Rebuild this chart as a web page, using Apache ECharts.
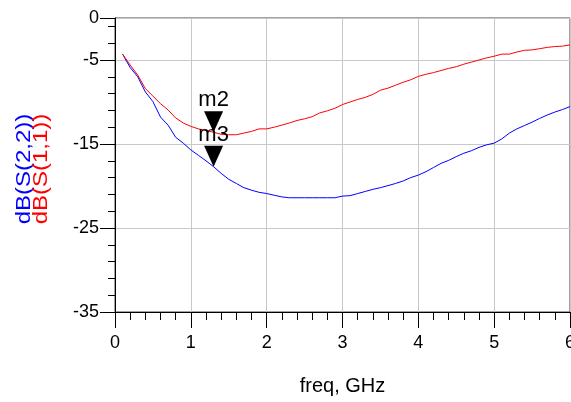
<!DOCTYPE html>
<html lang="en">
<head>
  <meta charset="UTF-8">
  <title>S-parameters</title>
  <script src="https://cdn.jsdelivr.net/npm/echarts@6/dist/echarts.min.js"></script>
  <style>
    html,body{margin:0;padding:0;background:#fff;}
    #chart{width:571px;height:402px;}
  </style>
</head>
<body>
<div id="chart"></div>
<script>
  // freq in GHz
  var freq = [0.1,0.2,0.3,0.4,0.5,0.6,0.7,0.8,0.9,1.0,
              1.1,1.2,1.3,1.4,1.5,1.6,1.7,1.8,1.9,2.0,
              2.1,2.2,2.3,2.4,2.5,2.6,2.7,2.8,2.9,3.0,
              3.1,3.2,3.3,3.4,3.5,3.6,3.7,3.8,3.9,4.0,
              4.1,4.2,4.3,4.4,4.5,4.6,4.7,4.8,4.9,5.0,
              5.1,5.2,5.3,5.4,5.5,5.6,5.7,5.8,5.9,6.0];
  var s11 = [-4.3,-5.6,-6.8,-8.4,-9.3,-10.2,-10.95,-11.9,-12.5,-12.9,
             -13.2,-13.4,-13.6,-13.85,-13.9,-13.9,-13.7,-13.5,-13.2,-13.2,
             -13.0,-12.75,-12.5,-12.2,-12.0,-11.75,-11.3,-11.05,-10.75,-10.3,
             -10.0,-9.7,-9.45,-9.1,-8.6,-8.35,-8.0,-7.65,-7.35,-6.95,
             -6.7,-6.5,-6.25,-6.0,-5.8,-5.5,-5.25,-5.0,-4.75,-4.55,
             -4.3,-4.3,-4.05,-3.85,-3.8,-3.65,-3.5,-3.4,-3.35,-3.2];
  var s22 = [-4.3,-5.9,-7.0,-8.8,-9.95,-11.8,-12.75,-14.2,-14.9,-15.7,
             -16.35,-17.0,-17.7,-18.5,-19.2,-19.7,-20.2,-20.5,-20.75,-20.9,
             -21.1,-21.3,-21.4,-21.4,-21.4,-21.4,-21.4,-21.4,-21.4,-21.2,
             -21.15,-20.9,-20.65,-20.4,-20.2,-19.95,-19.7,-19.4,-19.0,-18.7,
             -18.3,-17.8,-17.3,-16.95,-16.5,-16.1,-15.8,-15.4,-15.1,-14.9,
             -14.4,-13.7,-13.2,-12.8,-12.4,-11.95,-11.55,-11.2,-10.9,-10.55];
  var markers = [
    {name:'m2', freq:1.3, value:-13.6},
    {name:'m3', freq:1.3, value:-17.7}
  ];

  function pairs(ys){
    return freq.map(function(f,i){return [f,ys[i]];});
  }
  function marker(m){
    return {
      symbol:'path://M0,0L20,0L10,22Z',
      symbolSize:[19,21],
      symbolOffset:[0,'-50%'],
      itemStyle:{color:'#000'},
      label:{show:true,position:'top',distance:0,color:'#000',
             fontSize:22,fontFamily:'Liberation Sans, Arial',formatter:m.name},
      data:[{coord:[m.freq,m.value]}]
    };
  }

  var font = 'Liberation Sans, Arial, sans-serif';
  var chart = echarts.init(document.getElementById('chart'));
  chart.setOption({
    animation:false,
    backgroundColor:'#fff',
    grid:{left:115,top:18,width:455,height:294,show:true,borderColor:'#444',borderWidth:1,
          outerBoundsMode:'none',containLabel:false},
    xAxis:{
      type:'value',min:0,max:6,interval:1,position:'bottom',
      name:'freq, GHz',nameLocation:'middle',nameGap:64,
      nameTextStyle:{color:'#000',fontSize:20,fontFamily:font},
      axisLine:{show:true,onZero:false,lineStyle:{color:'#000',width:1}},
      axisTick:{show:true,inside:false,length:16,lineStyle:{color:'#000',width:1}},
      minorTick:{show:true,splitNumber:5,length:8,lineStyle:{color:'#000',width:1}},
      axisLabel:{margin:22,color:'#000',fontSize:18,fontFamily:font},
      splitLine:{show:true,lineStyle:{color:'#c8c8c8',width:1}}
    },
    yAxis:{
      type:'value',min:-35,max:0,interval:10,position:'left',
      axisLine:{show:true,onZero:false,lineStyle:{color:'#000',width:1}},
      axisTick:{show:true,inside:false,length:15,lineStyle:{color:'#000',width:1}},
      minorTick:{show:true,splitNumber:5,length:7,lineStyle:{color:'#000',width:1}},
      axisLabel:{margin:16,color:'#000',fontSize:18,fontFamily:font,showMinLabel:true,showMaxLabel:true},
      splitLine:{show:true,lineStyle:{color:'#c8c8c8',width:1}}
    },
    graphic:[
      {type:'text',x:24.5,y:169,rotation:Math.PI/2,scaleX:1.2,
       style:{text:'dB(S(2,2))',fill:'#0000ff',font:'20px '+font,align:'center',verticalAlign:'middle'}},
      {type:'text',x:41.5,y:169,rotation:Math.PI/2,scaleX:1.2,
       style:{text:'dB(S(1,1))',fill:'#ff0000',font:'20px '+font,align:'center',verticalAlign:'middle'}}
    ],
    series:[{
      name:'dB(S(2,2))',type:'line',
      data:pairs(s22),showSymbol:false,symbol:'none',
      lineStyle:{color:'#0000ff',width:1},
      markPoint:marker(markers[1])
    },{
      name:'dB(S(1,1))',type:'line',
      data:pairs(s11),showSymbol:false,symbol:'none',
      lineStyle:{color:'#ff0000',width:1},
      markPoint:marker(markers[0])
    }]
  });
</script>
</body>
</html>
